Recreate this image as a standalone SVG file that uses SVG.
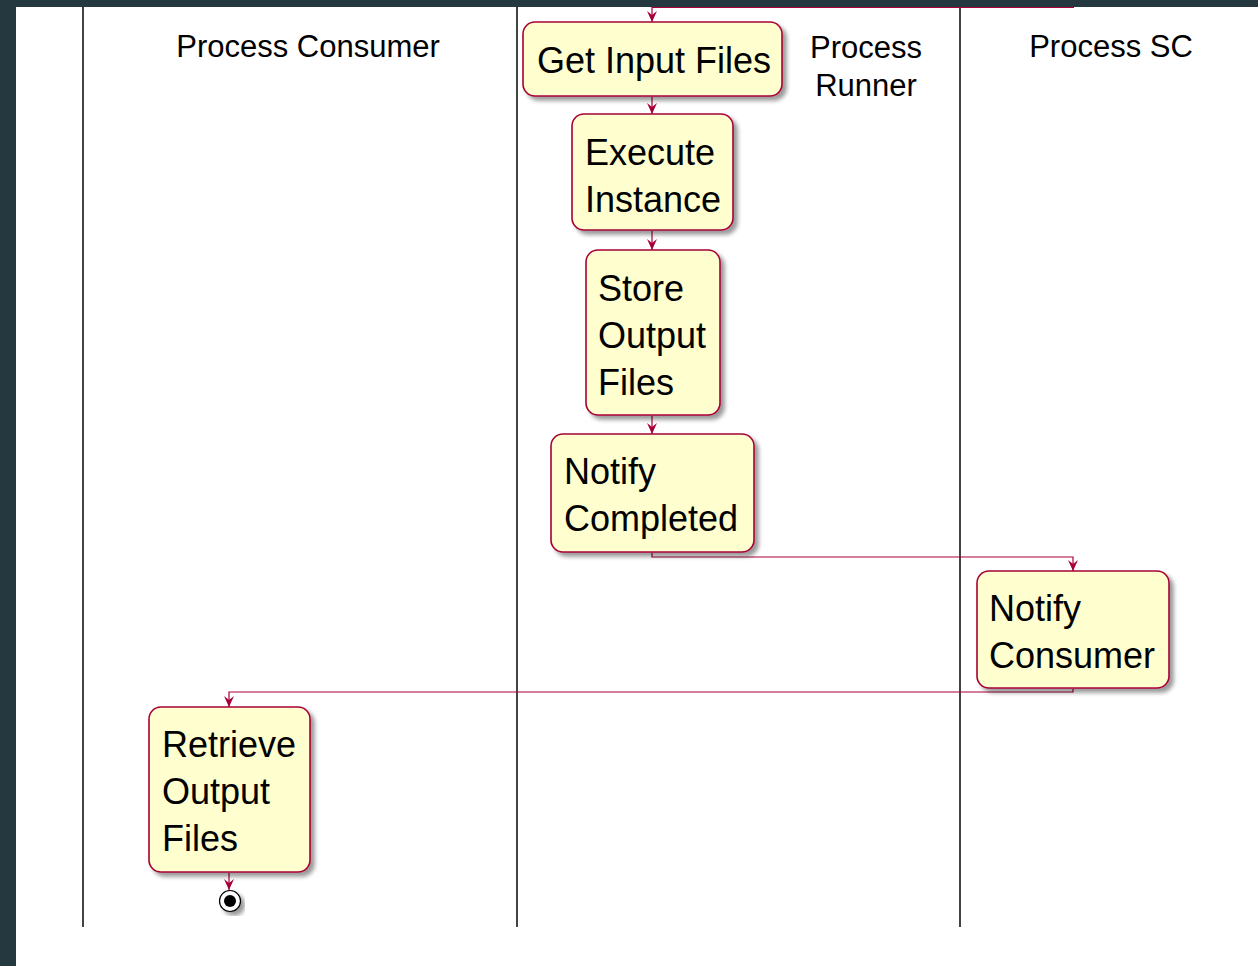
<svg xmlns="http://www.w3.org/2000/svg" width="1258" height="966" viewBox="0 0 1258 966">
  <style>
    .lane { stroke: #444444; stroke-width: 2; }
    .title { font-family: "Liberation Sans", Arial, sans-serif; font-size: 31px; fill: #000000; }
    .box { fill: #FEFECE; stroke: #A80036; stroke-width: 1.6; filter: url(#shadow); }
    .label { font-family: "Liberation Sans", Arial, sans-serif; font-size: 36px; fill: #000000; }
    .flow { fill: none; stroke: #A80036; stroke-width: 1.2; }
  </style>
  <defs>
    <filter id="shadow" x="-20%" y="-20%" width="140%" height="140%">
      <feGaussianBlur in="SourceAlpha" stdDeviation="2"/>
      <feOffset dx="4" dy="4" result="blur"/>
      <feComponentTransfer><feFuncA type="linear" slope="0.4"/></feComponentTransfer>
      <feMerge><feMergeNode/><feMergeNode in="SourceGraphic"/></feMerge>
    </filter>
    <!-- notched arrowhead, tip at the end of the path -->
    <marker id="arrowv" markerWidth="12" markerHeight="12" refX="11" refY="5" orient="auto" markerUnits="userSpaceOnUse" viewBox="0 0 12 10" overflow="visible">
      <path d="M0,0 L11,5 L0,10 L4,5 Z" fill="#A80036"/>
    </marker>
  </defs>

  <!-- page background -->
  <rect x="0" y="0" width="1258" height="966" fill="#FFFFFF"/>

  <!-- swimlane separators -->
  <g id="lanes">
    <line class="lane" x1="83" y1="7" x2="83" y2="927"/>
    <line class="lane" x1="517" y1="7" x2="517" y2="927"/>
    <line class="lane" x1="960" y1="7" x2="960" y2="927"/>
  </g>

  <!-- lane titles -->
  <g id="lane-titles">
    <text class="title" x="308" y="57" text-anchor="middle">Process Consumer</text>
    <text class="title" x="866" y="58" text-anchor="middle">Process</text>
    <text class="title" x="866" y="96" text-anchor="middle">Runner</text>
    <text class="title" x="1111" y="57" text-anchor="middle">Process SC</text>
  </g>

  <!-- connectors -->
  <g id="connectors">
    <path class="flow" d="M1074,7.5 L652,7.5 L652,22" marker-end="url(#arrowv)"/>
    <path class="flow" d="M652,97 L652,114" marker-end="url(#arrowv)"/>
    <path class="flow" d="M652,231 L652,250" marker-end="url(#arrowv)"/>
    <path class="flow" d="M652,416 L652,434" marker-end="url(#arrowv)"/>
    <path class="flow" d="M652,553 L652,557 L1073,557 L1073,571" marker-end="url(#arrowv)"/>
    <path class="flow" d="M1073,689 L1073,692 L229,692 L229,707" marker-end="url(#arrowv)"/>
    <path class="flow" d="M229,873 L229,890" marker-end="url(#arrowv)"/>
  </g>

  <!-- activities -->
  <g id="get-input-files">
    <rect class="box" x="523" y="22" width="259" height="74" rx="12"/>
    <text class="label" x="537" y="73">Get Input Files</text>
  </g>
  <g id="execute-instance">
    <rect class="box" x="572" y="114" width="161" height="116" rx="12"/>
    <text class="label" x="585" y="165">Execute</text>
    <text class="label" x="585" y="212">Instance</text>
  </g>
  <g id="store-output-files">
    <rect class="box" x="586" y="250" width="134" height="165" rx="12"/>
    <text class="label" x="598" y="301">Store</text>
    <text class="label" x="598" y="348">Output</text>
    <text class="label" x="598" y="395">Files</text>
  </g>
  <g id="notify-completed">
    <rect class="box" x="551" y="434" width="203" height="118" rx="12"/>
    <text class="label" x="564" y="484">Notify</text>
    <text class="label" x="564" y="531">Completed</text>
  </g>
  <g id="notify-consumer">
    <rect class="box" x="977" y="571" width="192" height="117" rx="12"/>
    <text class="label" x="989" y="621">Notify</text>
    <text class="label" x="989" y="668">Consumer</text>
  </g>
  <g id="retrieve-output-files">
    <rect class="box" x="149" y="707" width="161" height="165" rx="12"/>
    <text class="label" x="162" y="757">Retrieve</text>
    <text class="label" x="162" y="804">Output</text>
    <text class="label" x="162" y="851">Files</text>
  </g>

  <!-- end node -->
  <g id="end">
    <circle cx="230" cy="901" r="10.5" fill="#FFFFFF" stroke="#000000" stroke-width="1.2" filter="url(#shadow)"/>
    <circle cx="230" cy="901" r="6" fill="#000000"/>
  </g>

  <!-- surrounding frame -->
  <g id="frame">
    <rect x="0" y="0" width="1258" height="7" fill="#253840"/>
    <rect x="0" y="0" width="16" height="966" fill="#253840"/>
  </g>
</svg>
